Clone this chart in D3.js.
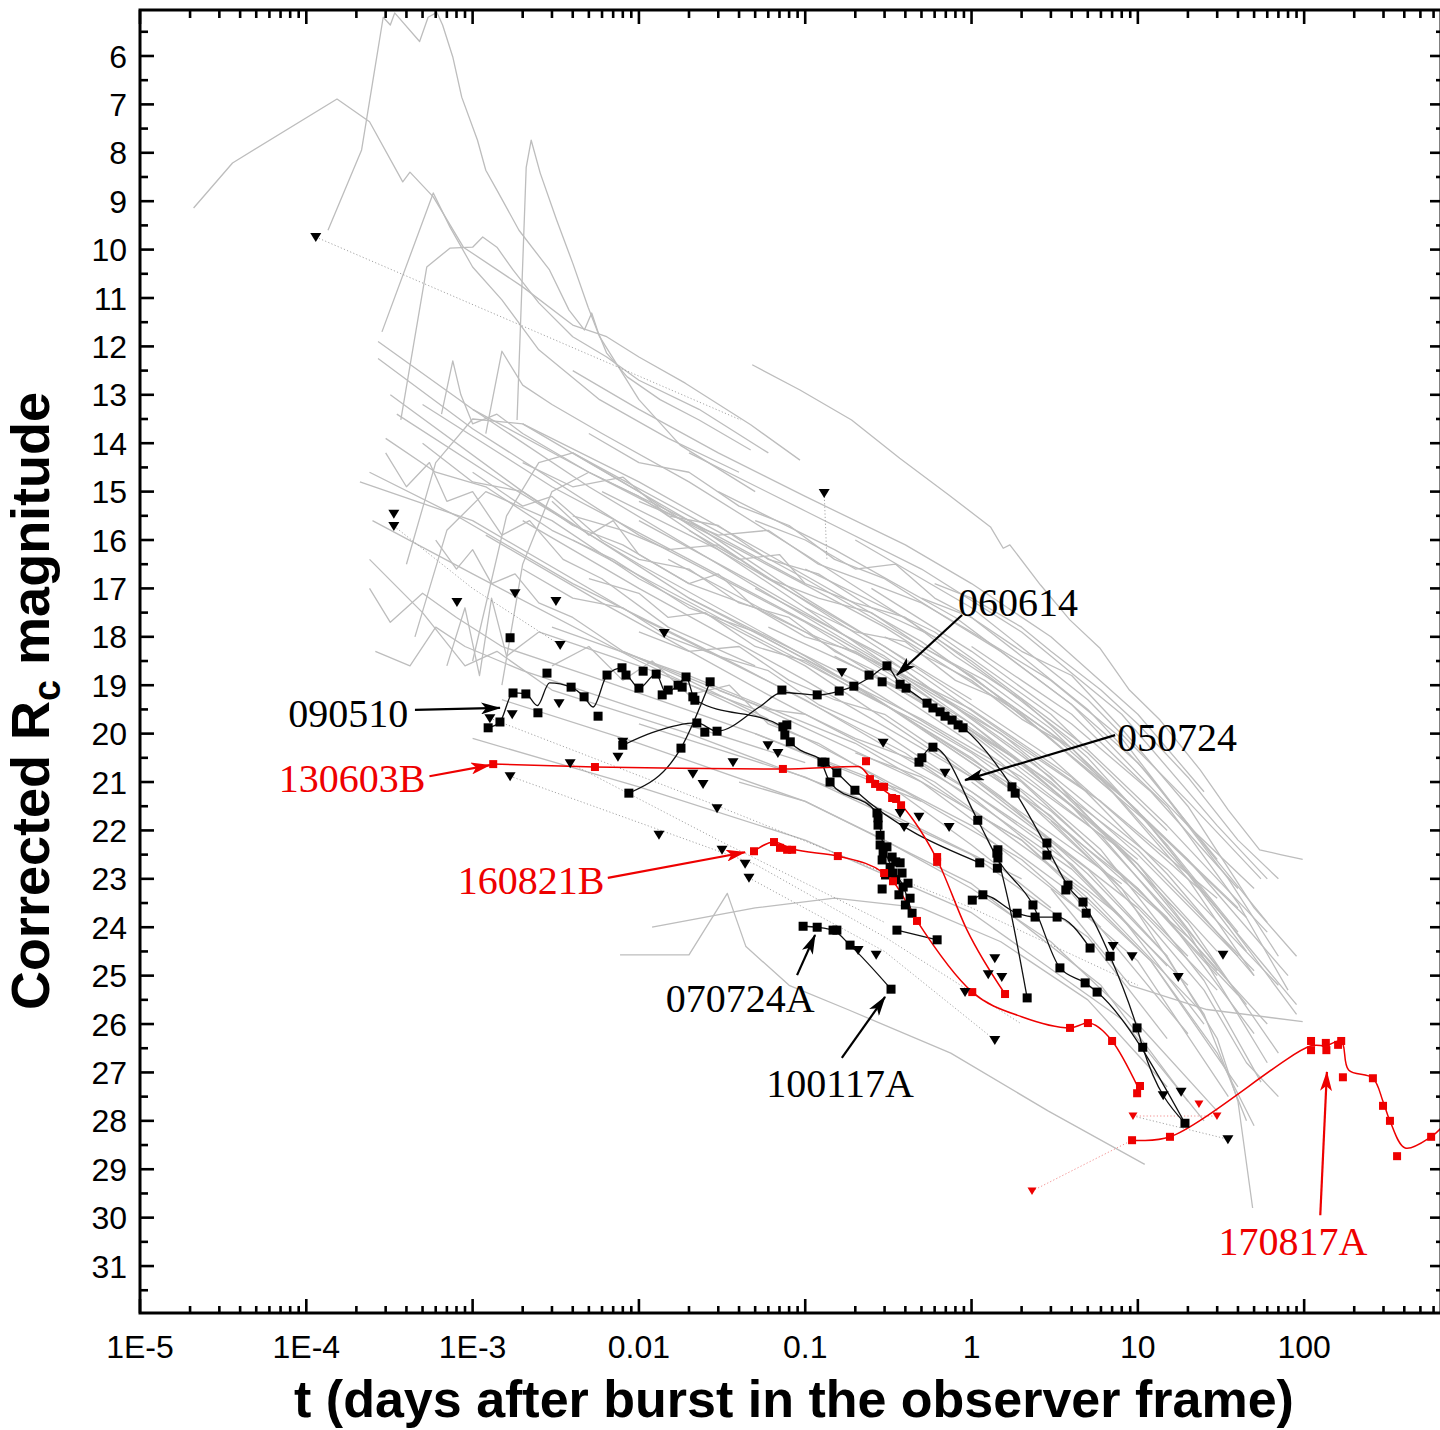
<!DOCTYPE html>
<html><head><meta charset="utf-8">
<script src="https://cdn.jsdelivr.net/npm/d3@7"></script>
<style>body{margin:0;background:#fff}svg{display:block}</style>
</head><body><svg id="c" width="1440" height="1430"></svg>
<script>
// ---------- axis ticks ----------
const xMajorTicks = [1e-5,1e-4,1e-3,0.01,0.1,1,10,100];
const xTickLabels = ["1E-5","1E-4","1E-3","0.01","0.1","1","10","100"];
const yMajorTicks = [6,7,8,9,10,11,12,13,14,15,16,17,18,19,20,21,22,23,24,25,26,27,28,29,30,31];

// ---------- grey afterglow light curves [t (days), Rc mag] ----------
const greyCurves = [
 [[2.1e-5,9.14],[3.6e-5,8.21],[1.53e-4,6.89],[2.4e-4,7.36],[3.8e-4,8.6],[4.2e-4,8.4],[5.8e-4,8.91],[8.8e-4,9.95],[2.0e-3,10.77],[4.0e-3,11.56],[6.4e-3,11.8],[0.010,12.22],[0.019,12.76],[0.047,13.62],[0.093,14.35]],
 [[1.35e-4,9.6],[2.15e-4,7.94],[2.5e-4,6.56],[2.9e-4,5.2],[3.2e-4,5.36],[3.4e-4,5.11],[4.8e-4,5.7],[5.4e-4,5.2],[6.1e-4,5.1],[6.6e-4,5.36],[7.6e-4,6.02],[8.6e-4,6.85],[1.07e-3,7.74],[1.2e-3,8.36],[1.4e-3,8.77],[1.9e-3,9.6],[2.9e-3,10.42],[3.8e-3,11.25],[4.7e-3,11.66],[5.2e-3,11.31],[5.7e-3,11.72],[6.4e-3,12.14],[8.5e-3,12.63],[0.0134,13.1],[0.023,13.52],[0.047,14.14]],
 [[1.85e-3,13.52],[2.1e-3,8.3],[2.25e-3,7.74],[2.55e-3,8.42],[3.2e-3,9.39],[4.0e-3,10.28],[4.95e-3,11.19],[5.8e-3,11.8],[0.010,13.1],[0.0177,14.04],[0.05,15.0]],
 [[2.85e-4,11.7],[5.8e-4,8.83],[7.3e-4,9.53],[1.0e-3,10.36],[1.5e-3,11.04],[2.5e-3,12.07],[5.8e-3,13.1],[0.015,13.9],[0.04,14.6]],
 [[3.7e-4,13.52],[5.3e-4,10.36],[7.3e-4,9.97],[1.0e-3,9.95],[1.15e-3,9.74],[1.4e-3,9.95],[1.75e-3,10.42],[2.5e-3,11.1],[4.0e-3,11.8],[6.4e-3,12.22],[0.010,12.7],[0.023,13.3],[0.06,14.2]],
 [[0.048,12.38],[0.093,12.9],[0.19,13.52],[0.37,14.31],[0.73,15.07],[1.3,15.73],[1.55,16.17],[1.7,16.1],[2.6,16.93],[3.9,17.65],[5.9,18.23],[8.9,19.1],[13.6,19.72],[23.7,20.75],[35,21.58],[54,22.4],[72,22.5],[98,22.6]],
 [[2.7e-4,11.9],[1e-3,13.3],[5e-3,14.9],[0.03,16.5],[0.2,18.2],[1,19.6],[6,21.4],[30,23.4]],
 [[2.7e-4,12.25],[1e-3,13.7],[0.01,15.9],[0.1,17.7],[1,19.8],[10,22.4],[50,24.9]],
 [[3.2e-4,13.0],[2e-3,15.0],[0.02,17.2],[0.2,19.0],[2,21.2],[20,24.2],[60,26.0]],
 [[2.1e-4,14.8],[1e-3,15.6],[0.01,17.6],[0.1,19.3],[1,21.3],[8,23.8]],
 [[2.4e-4,14.6],[8e-4,15.5],[4e-3,16.9],[0.04,18.6],[0.4,20.4],[4,22.8],[20,25.2]],
 [[3.5e-4,13.4],[1.5e-3,14.8],[0.01,16.5],[0.1,18.4],[1,20.5],[10,23.2],[40,25.4]],
 [[5e-4,13.2],[3e-3,14.9],[0.02,16.4],[0.15,18.0],[1.5,20.0],[15,22.8],[70,25.2]],
 [[1e-3,13.3],[5e-3,14.6],[0.04,16.2],[0.3,17.8],[2,19.6],[12,21.9],[45,23.8]],
 [[2e-3,13.6],[0.01,14.8],[0.06,16.3],[0.5,18.1],[4,20.3],[20,22.6],[80,25.0]],
 [[4e-3,14.2],[0.02,15.5],[0.1,16.8],[1,18.8],[8,21.3],[40,23.6]],
 [[6e-3,15.0],[0.03,16.2],[0.3,18.2],[3,20.5],[25,23.3],[90,25.6]],
 [[0.01,15.6],[0.05,16.9],[0.4,18.7],[3,20.9],[20,23.9],[70,26.6]],
 [[0.015,16.4],[0.1,17.9],[1,20.0],[6,22.1],[30,24.9]],
 [[0.02,17.2],[0.2,18.9],[2,21.0],[15,23.8],[50,26.2]],
 [[0.004,16.0],[0.03,17.6],[0.3,19.4],[3,21.7],[20,24.6]],
 [[0.002,15.6],[0.01,17.0],[0.1,18.9],[1,20.9],[10,23.6],[30,25.3]],
 [[1.2e-3,15.9],[6e-3,17.3],[0.06,19.2],[0.6,21.0],[5,23.3],[25,25.8]],
 [[2.5e-4,15.6],[1e-3,16.7],[0.01,18.5],[0.1,20.1],[1,21.9],[6,24.0]],
 [[3e-3,17.8],[0.02,18.8],[0.2,20.2],[2,22.2],[12,24.7],[40,27.3]],
 [[0.008,18.3],[0.05,19.4],[0.5,21.0],[4,23.3],[20,26.2]],
 [[0.05,17.0],[0.3,18.4],[2,20.4],[10,22.5],[40,24.6]],
 [[0.1,16.6],[0.6,17.9],[3,19.6],[15,21.9],[60,24.1]],
 [[0.2,16.0],[1,17.4],[5,19.3],[20,21.4],[55,23.0]],
 [[0.03,15.0],[0.15,16.2],[0.8,17.6],[4,19.4],[20,21.9],[50,23.2]],
 [[0.06,17.8],[0.4,19.1],[2,20.6],[10,22.7],[45,25.6]],
 [[0.15,18.4],[0.8,19.7],[4,21.5],[20,24.1],[60,26.8]],
 [[0.3,19.0],[1.5,20.6],[6,22.4],[25,25.1],[55,27.2]],
 [[0.5,19.9],[2,21.3],[8,23.2],[25,25.8],[45,28.0]],
 [[0.05,20.0],[0.4,21.2],[2,22.6],[10,24.7],[35,27.5]],
 [[0.01,19.8],[0.1,20.9],[1,22.5],[5,24.2],[15,26.3]],
 [[1.5e-3,19.3],[0.01,20.2],[0.1,21.4],[1,23.1],[6,25.2],[20,27.6]],
 [[1e-3,20.1],[0.01,21.1],[0.1,22.2],[1,23.7],[8,25.9],[25,28.0]],
 [[7.7e-3,24.57],[0.02,24.57],[0.034,23.3],[0.044,24.4],[0.08,25.2],[0.18,25.7],[0.75,26.6],[2.9,27.8],[11,28.9]],
 [[0.012,24.0],[0.05,23.6],[0.15,23.4],[0.5,23.6],[1.5,24.3],[5,25.5],[15,27.3]],
 [[0.25,17.0],[1,18.3],[4,19.8],[12,21.2],[40,23.2]],
 [[0.8,18.6],[3,20.0],[10,21.6],[35,23.9],[90,25.8]],
 [[1,21.0],[5,22.8],[15,24.6],[30,26.3],[40,27.6],[49,29.8]],
 [[3,23.2],[9,25.2],[26,25.7],[98,25.95]],
 [[0.02,14.2],[0.1,15.4],[0.5,16.6],[2,17.9],[8,19.6],[30,21.9],[60,23.0]],
 [[4e-3,12.5],[0.01,13.3],[0.03,14.2],[0.1,15.1],[0.4,16.1],[1,16.9],[3,18.0],[10,19.6],[25,21.2]],
 [[2.4e-4,17.0],[3.2e-4,17.7],[5e-4,17.1],[8e-4,17.6],[1.5e-3,18.2],[5e-3,18.8],[0.05,20.0],[0.5,21.4]],
 [[2.6e-4,18.3],[4.2e-4,18.6],[6e-4,17.8],[9e-4,18.2],[2e-3,18.7],[0.01,19.5],[0.1,20.6]],
 [[1.5e-3,19.0],[2e-3,16.5],[3e-3,15.0],[5e-3,14.6],[0.01,15.1],[0.1,17.4],[1,19.8],[10,22.6]],
 [[1e-3,18.5],[1.6e-3,15.5],[2.5e-3,14.4],[4e-3,14.2],[0.01,15.0],[0.05,16.6],[0.5,18.8],[5,21.2]],
 [[4e-4,16.5],[6e-4,14.4],[1e-3,13.5],[2e-3,13.6],[5e-3,14.4],[0.02,15.6],[0.1,17.2],[1,19.3]],
 [[4.5e-4,18.0],[7e-4,15.8],[1.2e-3,15.0],[3e-3,15.6],[0.01,16.8],[0.1,18.6],[1,20.9],[8,23.1]],
 [[6.5e-4,13.4],[7.6e-4,12.3],[8.5e-4,13.0],[1e-3,13.6],[1.4e-3,13.4],[2e-3,13.8],[5e-3,14.6],[0.02,15.6],[0.1,16.9]],
 [[1.2e-3,13.8],[1.5e-3,12.1],[2e-3,12.8],[3e-3,13.2],[6e-3,13.8],[0.02,14.8],[0.1,16.3],[1,18.5],[5,20.3]],
 [[7e-4,18.6],[9e-4,17.4],[1.1e-3,18.8],[1.3e-3,17.2],[1.6e-3,18.4],[2.5e-3,17.9],[0.01,18.6],[0.05,19.5]],
 [[2.4e-4,16.4],[5e-4,17.5],[9e-4,18.6],[1.4e-3,18.3],[3e-3,19.1],[0.02,20.0],[0.2,21.3],[2,23.0]],
 [[3e-3,15.2],[5e-3,15.9],[7e-3,15.6],[0.01,16.3],[0.02,16.9],[0.03,16.7],[0.05,17.4],[0.1,18.0],[0.2,18.3],[0.4,18.9],[1,19.9],[3,21.0],[10,22.7],[30,24.5]],
 [[1e-3,14.6],[2e-3,15.3],[3e-3,15.1],[6e-3,16.0],[0.01,16.4],[0.02,16.6],[0.04,17.3],[0.08,17.6],[0.15,18.3],[0.3,18.8],[0.7,19.6],[2,20.6],[6,22.0],[20,23.9]],
 [[5e-3,16.8],[0.01,17.1],[0.015,17.6],[0.025,17.5],[0.05,18.2],[0.1,18.5],[0.2,19.1],[0.5,19.8],[1,20.4],[3,21.6],[10,23.2],[30,25.0]],
 [[0.01,17.9],[0.02,18.3],[0.04,18.2],[0.08,18.9],[0.15,19.3],[0.3,19.6],[0.6,20.3],[1.5,21.3],[5,22.9],[15,24.6]],
 [[0.02,15.8],[0.04,16.4],[0.07,16.3],[0.1,16.9],[0.2,17.3],[0.4,17.6],[0.8,18.4],[2,19.3],[5,20.5],[15,22.3],[40,24.1]],
 [[0.05,15.6],[0.1,16.0],[0.2,16.6],[0.35,16.5],[0.6,17.2],[1,17.6],[2,18.4],[5,19.5],[12,20.9],[35,23.0],[70,24.6]],
 [[0.1,17.4],[0.2,17.9],[0.4,18.1],[0.8,18.9],[1.5,19.3],[3,20.1],[7,21.2],[20,23.0],[50,25.0]],
 [[0.3,18.0],[0.6,18.5],[1,18.9],[2,19.7],[4,20.3],[8,21.4],[20,22.9],[45,24.5]],
 [[2e-3,16.6],[4e-3,17.2],[8e-3,17.4],[0.015,18.0],[0.03,18.4],[0.06,18.7],[0.12,19.4],[0.3,20.0],[1,21.2],[4,22.7],[15,24.8]],
 [[5e-4,14.0],[1e-3,14.8],[2e-3,15.0],[4e-3,15.7],[8e-3,16.1],[0.02,16.9],[0.05,17.4],[0.1,17.9],[0.3,18.6],[1,19.5],[4,20.9],[15,22.9],[50,25.0]],
 [[3e-4,13.9],[6e-4,14.6],[1.2e-3,14.9],[3e-3,15.8],[7e-3,16.4],[0.02,17.4],[0.05,17.9],[0.15,18.8],[0.5,19.7],[2,20.9],[8,22.4],[30,24.8]],
 [[0.004,15.5],[0.008,15.8],[0.015,16.2],[0.03,16.1],[0.06,16.8],[0.12,17.2],[0.25,17.5],[0.5,18.2],[1.2,18.9],[3,19.9],[10,21.6],[35,23.9]],
 [[0.01,15.2],[0.03,15.9],[0.06,15.8],[0.12,16.5],[0.25,16.9],[0.5,17.3],[1,17.9],[3,18.9],[8,20.1],[25,22.3],[60,23.9]],
 [[0.5,17.2],[1,17.6],[2,18.3],[4,18.8],[8,19.9],[20,21.5],[50,23.6],[90,24.6]],
 [[1,18.2],[2,18.9],[4,19.6],[8,20.6],[15,21.5],[40,23.5],[80,25.3]],
 [[0.03,19.1],[0.06,19.5],[0.1,19.6],[0.2,20.1],[0.5,20.6],[1,21.2],[3,22.3],[8,23.8],[25,26.0]],
 [[0.2,20.4],[0.5,20.9],[1,21.6],[2,22.2],[5,23.4],[12,24.7],[30,26.6],[50,28.1]],
 [[3,21.8],[6,22.8],[12,24.0],[25,25.3],[45,26.8],[70,27.5]],
 [[5e-3,13.8],[0.01,14.4],[0.02,14.6],[0.04,15.3],[0.08,15.7],[0.15,16.4],[0.3,16.8],[0.7,17.6],[1.5,18.3],[4,19.4],[10,20.6],[30,22.6]],
 [[2e-3,14.4],[4e-3,14.9],[8e-3,14.7],[0.015,15.5],[0.03,15.7],[0.06,16.4],[0.12,16.7],[0.25,17.4],[0.6,18.0],[1.5,19.0],[5,20.4],[15,22.0]],
 [[3e-4,14.2],[4e-4,14.9],[5.5e-4,14.4],[7e-4,15.2],[1e-3,15.0],[1.5e-3,15.9],[2.2e-3,15.6],[3.5e-3,16.4],[6e-3,16.8],[0.015,17.8],[0.05,18.6]],
 [[6e-4,16.0],[8e-4,16.6],[1e-3,16.2],[1.3e-3,16.9],[1.8e-3,16.7],[2.5e-3,17.3],[4e-3,17.6],[8e-3,18.3],[0.02,18.9],[0.06,19.7]],
 [[3e-3,18.6],[5e-3,18.2],[8e-3,18.9],[0.012,18.5],[0.02,19.2],[0.035,19.0],[0.06,19.8],[0.12,20.2],[0.3,21.0],[1,22.3],[3,23.6]],
 [[0.04,21.0],[0.1,21.4],[0.3,22.2],[1,23.2],[3,24.3],[10,26.0],[30,27.8]],
 [[0.6,16.9],[1,17.2],[2,17.8],[3,18.3],[6,19.1],[10,19.8],[20,20.9],[40,22.2],[70,23.0]]
];

// dotted connections of upper limits
const greyDotted = [
 [[1.14e-4,9.74],[0.041,13.52]],
 [[3.36e-4,15.71],[1e-3,17.0],[3.36e-3,18.17]],
 [[1.27e-3,19.68],[0.03,21.5],[1,23.6],[10,25.2]],
 [[1.68e-3,20.88],[0.05,22.7],[0.3,24.2],[2,26.0]],
 [[0.0459,22.98],[0.3,24.5],[1.38,26.33]],
 [[3.86e-3,20.61],[0.03,22.2],[0.3,23.9]],
 [[9.35,27.9],[34.8,28.38]],
 [[0.13,15.03],[0.135,16.4]]
];
const redDotted = [
 [[2.31,29.45],[9.23,28.4]],
 [[9.35,27.9],[29.9,27.9]]
];

// ---------- highlighted bursts (black) ----------
const grb090510Pts = [[1.24e-3,19.88],[1.46e-3,19.76],[1.75e-3,19.16],[2.09e-3,19.18],[2.47e-3,19.57],[2.80e-3,18.75],[3.91e-3,19.04],[4.68e-3,19.24],[5.68e-3,19.64],[6.43e-3,18.79],[7.91e-3,18.64],[8.36e-3,18.79],[0.0100,19.06],[0.0106,18.71],[0.0127,18.77],[0.0138,19.20],[0.0150,19.10],[0.0172,19.00],[0.0182,19.04],[0.0192,18.83],[0.0211,19.24],[0.0217,19.31],[0.0734,19.86],[0.0775,19.82],[0.0754,20.03],[0.0813,20.17],[0.1315,20.59],[0.155,20.81],[0.199,21.17],[1.12,22.67]];
const grb090510Line = [[1.24e-3,19.88],[1.46e-3,19.76],[1.75e-3,19.16],[2.09e-3,19.18],[2.45e-3,19.42],[2.9e-3,18.95],[3.91e-3,19.04],[4.68e-3,19.24],[5.3e-3,19.45],[6.43e-3,18.79],[7.91e-3,18.64],[9.0e-3,18.9],[0.0100,19.06],[0.0127,18.77],[0.0145,19.15],[0.0172,19.0],[0.0192,18.83],[0.0217,19.3],[0.0734,19.86],[0.0813,20.17],[0.1315,20.59],[0.155,20.81],[0.199,21.17],[1.12,22.67]];
const grb060614Pts = [[8.0e-3,20.24],[0.0223,19.78],[0.0249,19.97],[0.0295,19.95],[0.0724,19.10],[0.118,19.20],[0.160,19.12],[0.196,19.02],[0.242,18.79],[0.290,18.93],[0.310,18.60],[0.372,18.98],[0.404,19.06],[0.540,19.37],[0.586,19.47],[0.647,19.55],[0.693,19.64],[0.764,19.72],[0.830,19.82],[0.889,19.88],[1.75,21.10],[1.83,21.23],[2.84,22.26],[2.84,22.51],[3.80,23.13],[3.69,23.23],[4.68,23.48],[4.89,23.71],[6.81,24.60],[9.89,26.08],[10.7,26.48],[19.2,28.05]];
const grb060614Line = [[8.0e-3,20.24],[0.012,19.98],[0.0223,19.78],[0.0295,19.95],[0.053,19.45],[0.0724,19.15],[0.118,19.2],[0.160,19.12],[0.196,19.02],[0.242,18.85],[0.31,18.62],[0.372,18.98],[0.404,19.06],[0.54,19.37],[0.693,19.64],[0.889,19.88],[1.75,21.1],[2.84,22.35],[3.8,23.15],[4.89,23.6],[6.81,24.6],[9.89,26.08],[10.7,26.48],[19.2,28.05]];
const grb050724Pts = [[0.483,20.59],[0.503,20.50],[0.586,20.28],[1.09,21.79],[1.44,22.40],[1.44,22.57],[1.43,22.78],[2.34,23.54],[3.40,24.84],[4.82,25.15],[5.69,25.34]];
const grb050724Line = [[0.483,20.59],[0.586,20.28],[1.09,21.79],[1.44,22.6],[2.34,23.54],[3.40,24.84],[4.82,25.15],[5.69,25.34],[19.2,28.05]];
const grb070724APts = [[0.0971,23.98],[0.118,24.0],[0.147,24.06],[0.155,24.06],[0.186,24.37],[0.328,25.28]];
const grb070724ALine = [[0.0971,23.98],[0.118,24.0],[0.147,24.06],[0.186,24.37],[0.328,25.28]];
const otherBlackLines = [
 [[8.7e-3,21.23],[0.0179,20.30],[0.0268,18.93]],
 [[0.126,20.59],[0.141,21.0],[0.270,21.64],[0.294,22.3],[0.337,22.8],[0.388,23.15],[0.439,23.71]],
 [[0.356,24.06],[0.621,24.26]],
 [[1.01,23.44],[1.17,23.33],[1.88,23.71],[2.41,23.79],[3.27,23.79],[5.16,24.43]],
 [[1.42,22.47],[1.7,23.6],[2.16,25.46]]
];
const otherBlackPts = [[8.7e-3,21.23],[0.0179,20.30],[0.0268,18.93],[1.68e-3,18.02],
 [0.126,20.59],[0.141,21.0],[0.270,21.64],[0.274,21.89],[0.282,22.30],[0.294,22.47],[0.310,22.34],[0.290,22.61],[0.324,22.76],[0.337,22.88],[0.372,22.67],[0.382,22.88],[0.388,23.17],[0.415,23.09],[0.427,23.40],[0.290,23.21],[0.439,23.71],[0.304,22.92],[0.35,23.02],[0.366,23.33],[0.40,23.54],[0.282,22.10],[0.333,22.55],[0.274,21.74],[0.35,22.65],
 [0.356,24.06],[0.621,24.26],
 [1.01,23.44],[1.17,23.33],[1.88,23.71],[2.41,23.79],[3.27,23.79],[5.16,24.43],
 [1.42,22.47],[2.16,25.46]];
const blackLimits = [[1.14e-4,9.74],[3.36e-4,15.46],[3.36e-4,15.71],[8.05e-4,17.28],[1.8e-3,17.10],[3.17e-3,17.26],[3.36e-3,18.17],[0.0142,17.92],[3.31e-3,19.37],[1.73e-3,19.60],[1.27e-3,19.68],[3.86e-3,20.61],[1.68e-3,20.88],[7.48e-3,20.48],[8.0e-3,20.17],[0.0211,20.83],[0.0243,21.04],[0.0295,21.54],[0.0132,22.09],[0.0368,20.59],[0.0316,22.40],[0.0435,22.69],[0.0459,22.98],[0.130,15.03],[0.166,18.73],[0.294,20.19],[0.0597,20.24],[0.0685,20.40],[0.693,20.81],[0.372,21.64],[0.483,21.72],[0.393,21.93],[0.733,21.93],[0.208,24.47],[0.267,24.57],[1.38,24.64],[1.26,24.97],[1.52,25.03],[0.914,25.34],[1.38,26.33],[9.23,24.60],[32.5,24.57],[17.5,25.03],[14.2,27.47],[18.2,27.40],[34.8,28.38],[7.1,24.39]];

// ---------- highlighted bursts (red) ----------
const grb130603BPts = [[1.33e-3,20.63],[5.44e-3,20.69],[0.0734,20.73],[0.232,20.57],[0.245,20.94],[0.263,21.04],[0.282,21.10],[0.298,21.10],[0.333,21.33],[0.352,21.35],[0.377,21.48],[0.621,22.55],[0.621,22.65],[1.59,25.38]];
const grb130603BLine = [[1.33e-3,20.63],[5.44e-3,20.69],[0.0734,20.73],[0.21,20.68],[0.245,20.9],[0.28,21.1],[0.35,21.35],[0.45,21.8],[0.62,22.6],[0.94,24.06],[1.59,25.38]];
const grb160821BPts = [[0.0492,22.43],[0.0649,22.24],[0.0705,22.36],[0.0778,22.40],[0.0834,22.40],[0.157,22.53],[0.298,22.88],[0.337,23.05],[0.470,23.87],[1.01,25.34],[3.91,26.08],[5.01,25.98],[7.0,26.35],[10.3,27.28],[9.9,27.43]];
const grb160821BLine = [[0.0492,22.43],[0.0649,22.24],[0.0834,22.38],[0.157,22.53],[0.298,22.88],[0.337,23.05],[0.470,23.87],[1.01,25.34],[2.0,25.85],[3.91,26.08],[5.01,25.98],[7.0,26.35],[10.0,27.3]];
const grb170817APts = [[9.23,28.40],[15.6,28.33],[110,26.35],[110,26.54],[135,26.39],[136,26.54],[160,26.43],[167,26.35],[171,27.10],[259,27.12],[298,27.69],[328,28.0],[362,28.73],[580,28.33]];
const grb170817ALine = [[9.23,28.4],[15.6,28.33],[110,26.45],[135,26.45],[167,26.35],[185,26.95],[259,27.12],[298,27.6],[328,28.0],[405,28.56],[580,28.33],[665,28.15]];
const redLimits = [[23.3,27.65],[29.9,27.9],[9.35,27.9],[2.31,29.45]];

// ---------- labels ----------
const annotations = [
 {label:"090510", red:false, t:4.1e-4, m:19.57, anchor:"end", from:[4.5e-4,19.51], to:[1.46e-3,19.47]},
 {label:"130603B", red:true, t:5.2e-4, m:20.92, anchor:"end", from:[5.5e-4,20.88], to:[1.27e-3,20.65]},
 {label:"160821B", red:true, t:6.2e-3, m:23.02, anchor:"end", from:[6.5e-3,22.98], to:[0.0435,22.45]},
 {label:"060614", red:false, t:0.83, m:17.28, anchor:"start", from:[0.877,17.55], to:[0.356,18.79]},
 {label:"050724", red:false, t:7.5, m:20.07, anchor:"start", from:[7.3,20.03], to:[0.914,20.96]},
 {label:"070724A", red:false, t:0.0406, m:25.46, anchor:"middle", from:[0.0893,24.99], to:[0.1146,24.16]},
 {label:"100117A", red:false, t:0.162, m:27.22, anchor:"middle", from:[0.166,26.70], to:[0.302,25.44]},
 {label:"170817A", red:true, t:85.7, m:30.48, anchor:"middle", from:[125,29.95], to:[137,26.99]}
];

// ================= drawing =================
const svg = d3.select("#c");
const L=140, R=1441, T=10, B=1313;
const x = d3.scaleLog().domain([1e-5,665]).range([L,R]);
const y = d3.scaleLinear().domain([5.05,31.97]).range([T,B]);
const RED = "#ee0000";

svg.append("rect").attr("width",1440).attr("height",1430).attr("fill","#fff");
const defs = svg.append("defs");
defs.append("clipPath").attr("id","clip").append("rect").attr("x",L).attr("y",T).attr("width",R-L).attr("height",B-T);
[["ahk","#000"],["ahr",RED]].forEach(([id,c])=>{
  defs.append("marker").attr("id",id).attr("viewBox","0 0 20 12").attr("refX",19).attr("refY",6)
   .attr("markerWidth",20).attr("markerHeight",12).attr("markerUnits","userSpaceOnUse").attr("orient","auto")
   .append("path").attr("d","M0,0 L20,6 L0,12 L5,6 Z").attr("fill",c);
});

const plot = svg.append("g").attr("clip-path","url(#clip)");
const lineS = d3.line().x(d=>x(d[0])).y(d=>y(d[1])).curve(d3.curveMonotoneX);
const lineC = d3.line().x(d=>x(d[0])).y(d=>y(d[1])).curve(d3.curveCatmullRom.alpha(0.5));
const lineL = d3.line().x(d=>x(d[0])).y(d=>y(d[1]));

plot.append("g").selectAll("path").data(greyCurves).join("path")
  .attr("d",lineL).attr("fill","none").attr("stroke","#bdbdbd").attr("stroke-width",1.3).attr("stroke-linejoin","round");
plot.append("g").selectAll("path").data(greyDotted).join("path")
  .attr("d",lineL).attr("fill","none").attr("stroke","#9a9a9a").attr("stroke-width",0.9).attr("stroke-dasharray","1.2,2.2");
plot.append("g").selectAll("path").data(redDotted).join("path")
  .attr("d",lineL).attr("fill","none").attr("stroke","#f08080").attr("stroke-width",0.9).attr("stroke-dasharray","1.2,2.2");

// black lines
const blackLines = [grb090510Line, grb060614Line, grb050724Line, grb070724ALine, ...otherBlackLines];
plot.append("g").selectAll("path").data(blackLines).join("path")
  .attr("d",lineS).attr("fill","none").attr("stroke","#111").attr("stroke-width",1.3);
// red lines
plot.append("g").selectAll("path").data([grb130603BLine, grb160821BLine]).join("path")
  .attr("d",lineS).attr("fill","none").attr("stroke",RED).attr("stroke-width",1.5);
plot.append("path").datum(grb170817ALine).attr("d",lineC).attr("fill","none").attr("stroke",RED).attr("stroke-width",1.5);

// markers
const blackSquares = [...grb090510Pts, ...grb060614Pts, ...grb050724Pts, ...grb070724APts, ...otherBlackPts];
plot.append("g").selectAll("rect").data(blackSquares).join("rect")
  .attr("x",d=>x(d[0])-4.5).attr("y",d=>y(d[1])-4.5).attr("width",9).attr("height",9).attr("fill","#000");
const redSquares = [...grb130603BPts, ...grb160821BPts, ...grb170817APts];
plot.append("g").selectAll("rect").data(redSquares).join("rect")
  .attr("x",d=>x(d[0])-4).attr("y",d=>y(d[1])-4).attr("width",8).attr("height",8).attr("fill",RED);
plot.append("g").selectAll("path").data(blackLimits).join("path")
  .attr("transform",d=>`translate(${x(d[0])},${y(d[1])})`).attr("d","M-5.5,-4 L5.5,-4 L0,5 Z").attr("fill","#000");
plot.append("g").selectAll("path").data(redLimits).join("path")
  .attr("transform",d=>`translate(${x(d[0])},${y(d[1])})`).attr("d","M-4.5,-3.5 L4.5,-3.5 L0,4 Z").attr("fill",RED);

// annotations
const ann = svg.append("g");
annotations.forEach(a=>{
  const c = a.red?RED:"#000";
  ann.append("line").attr("x1",x(a.from[0])).attr("y1",y(a.from[1])).attr("x2",x(a.to[0])).attr("y2",y(a.to[1]))
    .attr("stroke",c).attr("stroke-width",2.2).attr("marker-end",`url(#${a.red?"ahr":"ahk"})`);
  ann.append("text").attr("x",x(a.t)).attr("y",y(a.m)).attr("dy","0.35em").attr("text-anchor",a.anchor)
    .attr("font-family","'Liberation Serif','Times New Roman',serif").attr("font-size",40).attr("fill",c).text(a.label);
});

// ---------- axes ----------
const ax = svg.append("g").attr("stroke","#000").attr("stroke-width",2.6);
const minorX = [];
for(let k=-5;k<=2;k++) for(let m=2;m<=9;m++){const t=m*Math.pow(10,k); if(t<665) minorX.push(t);}
const minorY = d3.range(5.5,32,1);
xMajorTicks.forEach(t=>{const px=x(t);
  ax.append("line").attr("x1",px).attr("x2",px).attr("y1",B).attr("y2",B-14);
  ax.append("line").attr("x1",px).attr("x2",px).attr("y1",T).attr("y2",T+14);});
minorX.forEach(t=>{const px=x(t);
  ax.append("line").attr("x1",px).attr("x2",px).attr("y1",B).attr("y2",B-7);
  ax.append("line").attr("x1",px).attr("x2",px).attr("y1",T).attr("y2",T+8);});
yMajorTicks.forEach(m=>{const py=y(m);
  ax.append("line").attr("x1",L).attr("x2",L+14).attr("y1",py).attr("y2",py);
  ax.append("line").attr("x1",R).attr("x2",R-11).attr("y1",py).attr("y2",py);});
minorY.forEach(m=>{const py=y(m);
  ax.append("line").attr("x1",L).attr("x2",L+8).attr("y1",py).attr("y2",py);
  ax.append("line").attr("x1",R).attr("x2",R-5).attr("y1",py).attr("y2",py);});
svg.append("rect").attr("x",L).attr("y",T).attr("width",R-L).attr("height",B-T)
  .attr("fill","none").attr("stroke","#000").attr("stroke-width",3);

const fontSans = "'Liberation Sans',Arial,Helvetica,sans-serif";
svg.append("g").selectAll("text").data(xMajorTicks).join("text")
  .attr("x",d=>x(d)).attr("y",1358).attr("text-anchor","middle").attr("font-family",fontSans).attr("font-size",32)
  .text((d,i)=>xTickLabels[i]);
svg.append("g").selectAll("text").data(yMajorTicks).join("text")
  .attr("x",127).attr("y",d=>y(d)).attr("dy","0.36em").attr("text-anchor","end").attr("font-family",fontSans).attr("font-size",32)
  .text(d=>d);

svg.append("text").attr("x",794).attr("y",1417).attr("text-anchor","middle").attr("font-family",fontSans)
  .attr("font-weight","bold").attr("font-size",52).text("t (days after burst in the observer frame)");
const yt = svg.append("text").attr("transform","translate(49,701) rotate(-90)").attr("text-anchor","middle")
  .attr("font-family",fontSans).attr("font-weight","bold").attr("font-size",54);
yt.append("tspan").text("Corrected R");
yt.append("tspan").attr("dy",11).attr("font-size",38).text("c");
yt.append("tspan").attr("dy",-11).text(" magnitude");
</script></body></html>
